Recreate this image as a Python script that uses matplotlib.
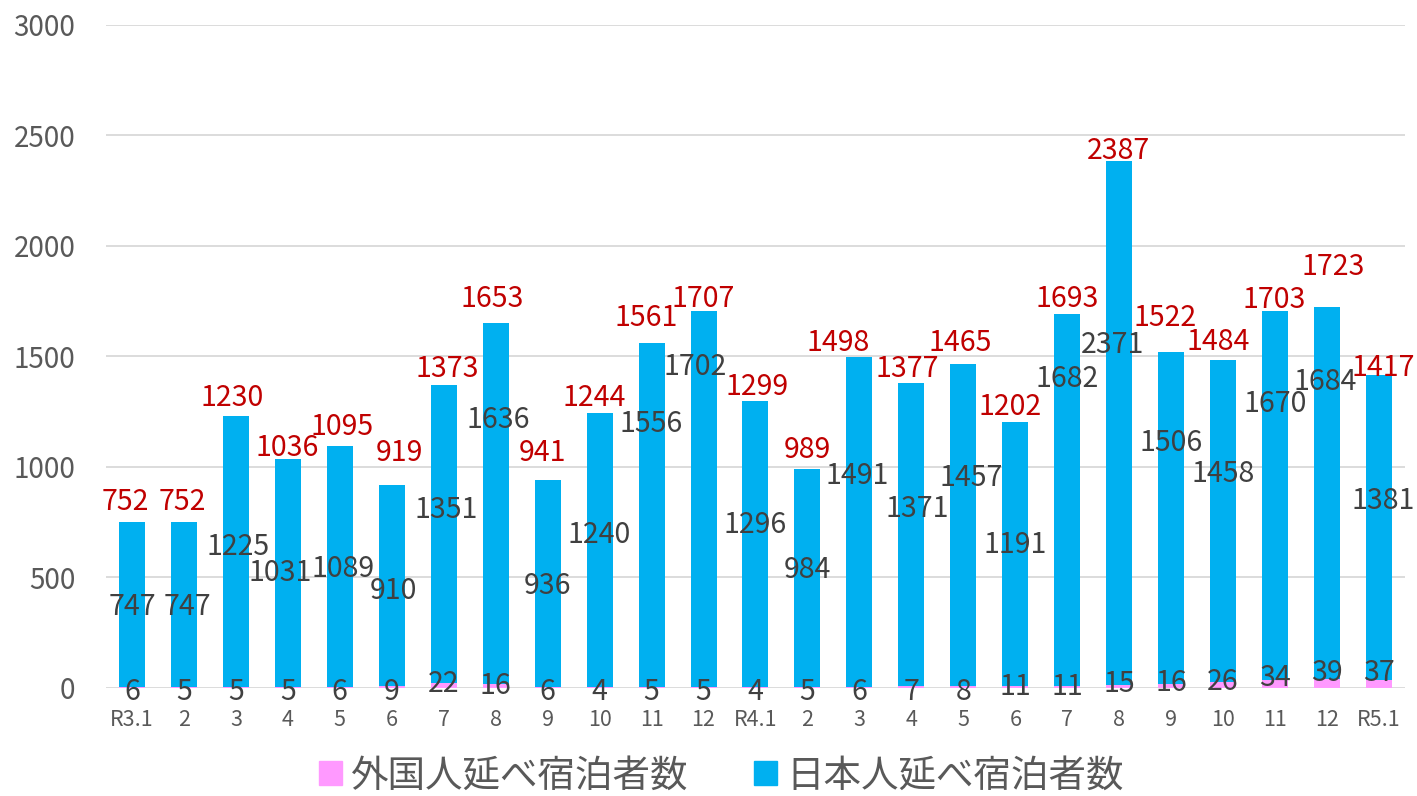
## plot.py: monthly overnight stays, stacked bars (foreign / japanese)
# -----------------------------------------------------------------------------
import matplotlib
matplotlib.use('Agg')
from matplotlib import pyplot as plt, patches as pat
import numpy as np

plt.rcParams['font.family'] = ['Noto Sans CJK JP', 'DejaVu Sans']

# -----------------------------------------------------------------------------
# data
months = ['R3.1', '2', '3', '4', '5', '6', '7', '8', '9', '10', '11', '12',
          'R4.1', '2', '3', '4', '5', '6', '7', '8', '9', '10', '11', '12', 'R5.1']
foreign = [6, 5, 5, 5, 6, 9, 22, 16, 6, 4, 5, 5,
           4, 5, 6, 7, 8, 11, 11, 15, 16, 26, 34, 39, 37]
japanese = [747, 747, 1225, 1031, 1089, 910, 1351, 1636, 936, 1240, 1556, 1702,
            1296, 984, 1491, 1371, 1457, 1191, 1682, 2371, 1506, 1458, 1670, 1684, 1381]
totals = [752, 752, 1230, 1036, 1095, 919, 1373, 1653, 941, 1244, 1561, 1707,
          1299, 989, 1498, 1377, 1465, 1202, 1693, 2387, 1522, 1484, 1703, 1723, 1417]

# label placement (hand-moved labels in the original chart)
jp_lab_y = [367, 367, 638, 521, 539, 439, 806, 1213, 462, 693, 1195, 1453,
            738, 534, 960, 810, 951, 647, 1399, 1553, 1109, 969, 1286, 1385, 847]
jp_lab_dx = [0, 0.06, 0.04, -0.15, 0.06, 0.04, 0.04, 0.04, 0, 0, 0, -0.17,
             0, 0, -0.05, 0.11, 0.15, 0, 0, -0.12, 0, 0, 0, -0.04, 0.08]
tot_lab_y = [842, 842, 1313, 1086, 1182, 1064, 1444, 1761, 1064, 1313, 1675, 1761,
             1363, 1077, 1562, 1444, 1562, 1272, 1761, 2431, 1675, 1566, 1756, 1906, 1449]
tot_lab_dx = [-0.13, -0.04, -0.08, -0.02, 0.04, 0.15, 0.06, -0.06, -0.1, -0.1, -0.11, 0,
              0.04, 0, -0.41, -0.08, -0.06, -0.1, 0, -0.02, -0.12, -0.1, -0.02, 0.12, 0.08]
fg_lab_y = [-16, -16, -16, -16, -16, -16, 16, 11, -16, -16, -16, -16,
            -16, -16, -16, -16, -16, 6, 6, 19, 23, 27, 45, 68, 68]

col_fg, col_jp = '#FF99FF', '#00B0F0'
col_red, col_txt, col_tick = '#C00000', '#404040', '#595959'

# -----------------------------------------------------------------------------
fig = plt.figure(figsize=(14.17, 7.96), dpi=100)
ax = fig.add_axes([0.0748, 0.1357, 0.9167, 0.8329])

xx = np.arange(len(months))
ax.bar(xx, foreign, width=0.5, color=col_fg, zorder=2, label='外国人延べ宿泊者数')
ax.bar(xx, japanese, width=0.5, bottom=foreign, color=col_jp, zorder=2,
       label='日本人延べ宿泊者数')

for i in range(len(months)):
    ax.text(xx[i] + jp_lab_dx[i], jp_lab_y[i], str(japanese[i]),
            ha='center', va='center', fontsize=20.5, color=col_txt, zorder=4)
    ax.text(xx[i] + tot_lab_dx[i], tot_lab_y[i], str(totals[i]),
            ha='center', va='center', fontsize=20.5, color=col_red, zorder=4)
    ax.text(xx[i], fg_lab_y[i], str(foreign[i]),
            ha='center', va='center', fontsize=20.5, color=col_txt, zorder=4)

ax.set_xlim(-0.5, len(months) - 0.5)
ax.set_ylim(0, 3000)
ax.set_yticks(np.arange(0, 3001, 500))
ax.set_xticks(xx)
ax.set_xticklabels(months)
ax.tick_params(axis='y', length=0, pad=22, labelsize=20, labelcolor=col_tick)
ax.tick_params(axis='x', length=0, pad=15, labelsize=15.5, labelcolor=col_tick)
ax.grid(axis='y', color='#D9D9D9', linewidth=1.3, zorder=0)
ax.set_axisbelow(True)
for sp in ax.spines.values():
    sp.set_visible(False)

handles = [pat.Patch(color=col_fg), pat.Patch(color=col_jp)]
fig.legend(handles, ['外国人延べ宿泊者数', '日本人延べ宿泊者数'],
           loc='center', bbox_to_anchor=(0.509, 0.025), ncol=2, frameon=False,
           fontsize=27, labelcolor=col_tick, handlelength=0.6, handleheight=0.6,
           handletextpad=0.25, columnspacing=1.75, borderpad=0.1)

fig.savefig('out.png', dpi=100)
